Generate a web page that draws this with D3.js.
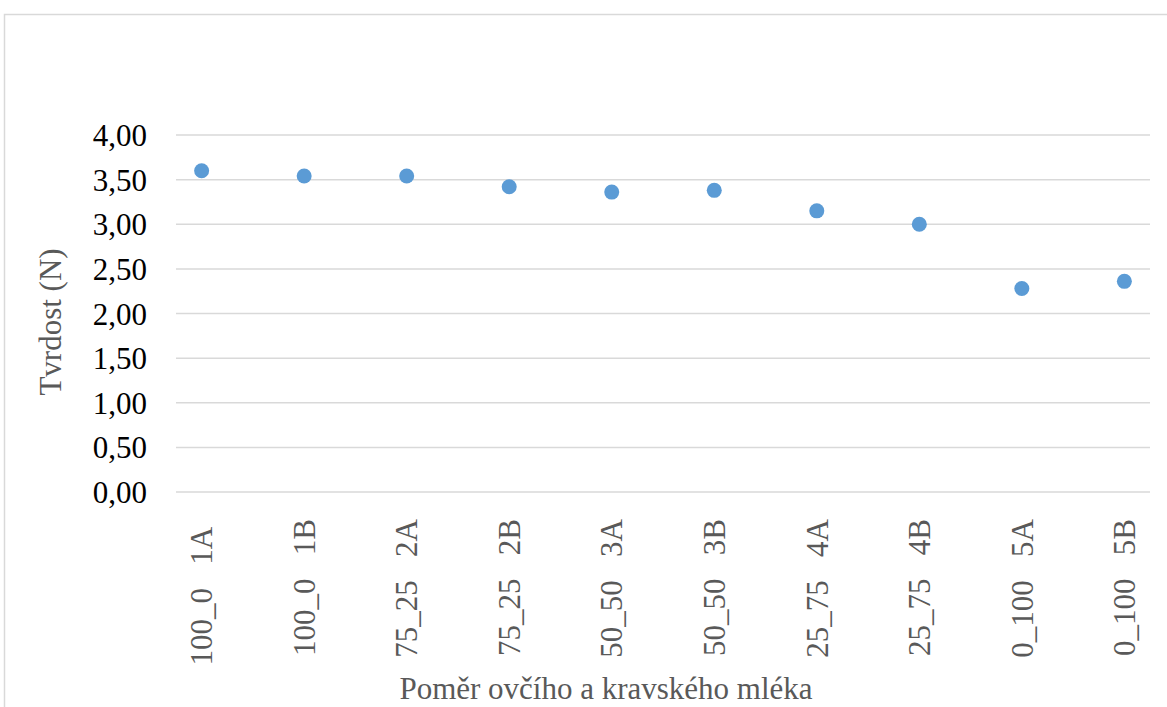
<!DOCTYPE html>
<html>
<head>
<meta charset="utf-8">
<script src="https://cdn.jsdelivr.net/npm/d3@7"></script>
<style>
  html, body { margin: 0; padding: 0; background: #fff; overflow: hidden; }
  text { font-family: "Liberation Serif", "Times New Roman", serif; }
</style>
</head>
<body>
<svg id="chart" width="1167" height="707"></svg>
<script>
const categories = ["100_0\u00A0\u00A0\u00A01A\u00A0", "100_0\u00A0\u00A0\u00A01B", "75_25\u00A0\u00A0\u00A02A", "75_25\u00A0\u00A0\u00A02B", "50_50\u00A0\u00A0\u00A03A",
                    "50_50\u00A0\u00A0\u00A03B", "25_75\u00A0\u00A0\u00A04A", "25_75\u00A0\u00A0\u00A04B", "0_100\u00A0\u00A0\u00A05A", "0_100\u00A0\u00A0\u00A05B"];
const values = [3.60, 3.54, 3.54, 3.42, 3.36, 3.38, 3.15, 3.00, 2.28, 2.36];
const yTicks = [0, 0.5, 1, 1.5, 2, 2.5, 3, 3.5, 4];
const yTitle = "Tvrdost (N)";
const xTitle = "Poměr ovčího a kravského mléka";

const svg = d3.select("#chart");
const FONT = "'Liberation Serif', 'Times New Roman', serif";

// outer chart border (extends past the window on right/bottom)
svg.append("rect")
  .attr("x", 4.5).attr("y", 14.5)
  .attr("width", 1200).attr("height", 760)
  .attr("fill", "none").attr("stroke", "#d9d9d9").attr("stroke-width", 1.5);

const x = d3.scalePoint().domain(categories).range([176, 1150]).padding(0.25);
const y = d3.scaleLinear().domain([0, 4]).range([492, 135]);

// gridlines
svg.append("g").selectAll("line").data(yTicks).join("line")
  .attr("x1", 176).attr("x2", 1150)
  .attr("y1", d => y(d)).attr("y2", d => y(d))
  .attr("stroke", "#d9d9d9").attr("stroke-width", 1.5);

// y axis labels
const fmt = d => d.toFixed(2).replace(".", ",");
const yAxis = d3.axisLeft(y).tickValues(yTicks).tickFormat(fmt).tickSize(0).tickPadding(0);
const gy = svg.append("g").attr("transform", "translate(147,0)").call(yAxis);
gy.attr("font-family", null).attr("font-size", null);
gy.select(".domain").remove();
gy.selectAll("text")
  .style("font-family", FONT)
  .attr("font-size", 31)
  .attr("fill", "#000")
  .attr("dy", "0.34em");

// x axis labels (rotated)
const xAxis = d3.axisBottom(x).tickSize(0).tickPadding(0);
const gx = svg.append("g").attr("transform", "translate(0,492)").call(xAxis);
gx.attr("font-family", null).attr("font-size", null);
gx.select(".domain").remove();
gx.selectAll("text")
  .style("font-family", FONT)
  .attr("font-size", 31)
  .attr("fill", "#595959")
  .attr("text-anchor", "end")
  .attr("transform", "rotate(-90)")
  .attr("x", -27)
  .attr("y", 0)
  .attr("dy", "0.33em");

// points
svg.append("g").selectAll("circle").data(values).join("circle")
  .attr("cx", (d, i) => x(categories[i]))
  .attr("cy", d => y(d))
  .attr("r", 7.5)
  .attr("fill", "#5b9bd5");

// axis titles
svg.append("text")
  .attr("transform", "translate(61,322) rotate(-90)")
  .attr("text-anchor", "middle")
  .style("font-family", FONT)
  .attr("font-size", 31)
  .attr("fill", "#595959")
  .text(yTitle);

svg.append("text")
  .attr("x", 606).attr("y", 699)
  .attr("text-anchor", "middle")
  .style("font-family", FONT)
  .attr("font-size", 31)
  .attr("fill", "#595959")
  .text(xTitle);
</script>
</body>
</html>
